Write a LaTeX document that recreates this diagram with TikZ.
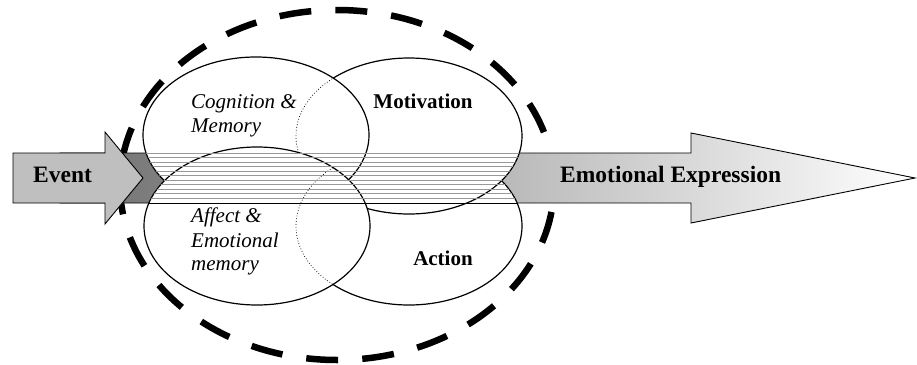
\documentclass[tikz,border=0pt]{standalone}
\usepackage{fontspec}
\setmainfont{Liberation Serif}
\begin{document}
\begin{tikzpicture}[x=1pt,y=-1pt,
  bubble/.style={fill=white,draw=black,line width=1.2pt},
  hidden/.style={draw=black,line width=0.7pt,dash pattern=on 0.8pt off 2pt},
  arrowline/.style={draw=black,line width=0.9pt},
  boldlab/.style={font=\fontsize{23.5}{28}\selectfont\bfseries,inner sep=0pt,anchor=base west},
  rolelab/.style={font=\fontsize{21}{24}\selectfont\bfseries,inner sep=0pt,anchor=base},
  itlab/.style={font=\fontsize{21}{24}\selectfont\itshape,inner sep=0pt,anchor=base west},
  stripe/.style={draw=black!40,line width=0.6pt},
  outerring/.style={draw=black,line width=6.5pt,dash pattern=on 32pt off 24.1pt,dash phase=29pt}
]
\useasboundingbox (0,0) rectangle (917,364);
% outer dashed ring (behind the arrows)
\path[outerring] (337,185) ellipse [x radius=217, y radius=175];
% large gradient arrow
\path[arrowline, left color=black!57, right color=white]
  (60,153) -- (691,153) -- (691,133) -- (915,178) -- (691,223) -- (691,203) -- (60,203) -- cycle;
% event arrow
\path[arrowline, fill=black!25]
  (13,153) -- (105,153) -- (105,132) -- (143,178) -- (105,224) -- (105,203) -- (13,203) -- cycle;
% ellipses
\path[bubble] (409,226) ellipse [x radius=113, y radius=79];
\path[bubble] (409,136) ellipse [x radius=113, y radius=78];
\path[bubble] (256,135) ellipse [x radius=113, y radius=78];
\begin{scope}
  \clip (256,135) ellipse [x radius=113, y radius=78];
  \path[hidden] (409,136) ellipse [x radius=113, y radius=78];
\end{scope}
\path[bubble] (257,226) ellipse [x radius=113, y radius=79];
\begin{scope}
  \clip (257,226) ellipse [x radius=113, y radius=79];
  \path[hidden] (409,226) ellipse [x radius=113, y radius=79];
\end{scope}
% stripes inside the ellipses
\begin{scope}
  \clip (409,226) ellipse [x radius=113, y radius=79]
        (409,136) ellipse [x radius=113, y radius=78]
        (256,135) ellipse [x radius=113, y radius=78]
        (257,226) ellipse [x radius=113, y radius=79];
  \foreach \k in {0,...,10} \path[stripe] (130,{153+4.5*\k}) -- (530,{153+4.5*\k});
  \path[draw=black, line width=0.9pt] (130,203) -- (530,203);
\end{scope}
% labels
\node[boldlab] (event) at (33,182) {Event};
\node[boldlab] (expr) at (560,182) {Emotional Expression};
\node[rolelab] (motiv) at (423,108) {Motivation};
\node[rolelab] (action) at (443,265) {Action};
\node[itlab] (cogA) at (191,108) {Cognition \&};
\node[itlab] (cogB) at (191,132) {Memory};
\node[itlab] (affA) at (191,222) {Affect \&};
\node[itlab] (affB) at (191,247) {Emotional};
\node[itlab] (affC) at (191,270) {memory};
\end{tikzpicture}
\end{document}
